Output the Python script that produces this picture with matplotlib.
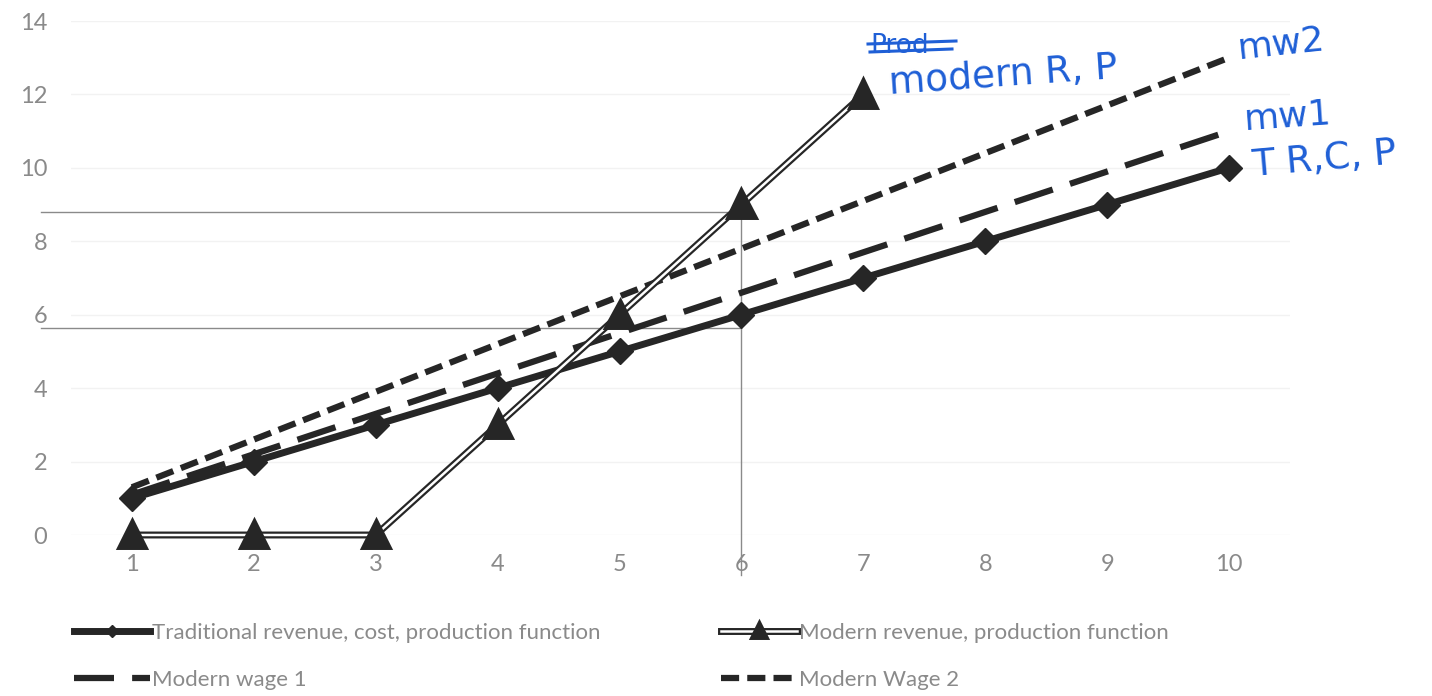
import matplotlib
matplotlib.use("Agg")
import matplotlib.pyplot as plt
import matplotlib.patheffects as pe

# Quantity of labour (category positions on the x axis)
labour = [1, 2, 3, 4, 5, 6, 7, 8, 9, 10]
traditional = [1, 2, 3, 4, 5, 6, 7, 8, 9, 10]
modern_labour = [1, 2, 3, 4, 5, 6, 7]
modern = [0, 0, 0, 3, 6, 9, 12]
modern_wage_1 = [1.1, 2.2, 3.3, 4.4, 5.5, 6.6, 7.7, 8.8, 9.9, 11.0]
modern_wage_2 = [1.3, 2.6, 3.9, 5.2, 6.5, 7.8, 9.1, 10.4, 11.7, 13.0]
y_ticks = [0, 2, 4, 6, 8, 10, 12, 14]

# Guide lines marking the modern sector at 6 workers
guide_x = 6
guide_levels = [8.8, 5.65]

labels = ["Traditional revenue, cost, production function",
          "Modern wage 1",
          "Modern revenue, production function",
          "Modern Wage 2"]

W, H = 1432, 696
fig = plt.figure(figsize=(W / 100, H / 100), dpi=100)
ax = fig.add_axes([71 / W, 1 - 535 / H, (1290 - 71) / W, (535 - 21) / H])

grey = "#8a8a8a"
ink = "#262626"
plt.rcParams["font.family"] = ["Lato", "DejaVu Sans"]

l_trad, = ax.plot(labour, traditional, color=ink, lw=5, marker="D",
                  ms=13, mfc=ink, mec=ink, clip_on=False, zorder=4)
l_mw1, = ax.plot(labour, modern_wage_1, color=ink, lw=4.5,
                 dashes=(6.4, 2.9), clip_on=False, zorder=3)
l_mw2, = ax.plot(labour, modern_wage_2, color=ink, lw=4.5,
                 dashes=(2.9, 1.3), clip_on=False, zorder=3)
l_mod, = ax.plot(modern_labour, modern, color="white", lw=1.8, marker="^",
                 ms=16, mfc=ink, mec=ink, clip_on=False, zorder=5,
                 path_effects=[pe.Stroke(linewidth=5, foreground=ink),
                               pe.Normal()])

# Hand-drawn style guide lines
for lvl in guide_levels:
    ax.plot([0.25, guide_x], [lvl, lvl], color="#8a8a8a", lw=1,
            clip_on=False, zorder=1)
ax.plot([guide_x, guide_x], [guide_levels[0], -1.1], color="#8a8a8a", lw=1,
        clip_on=False, zorder=1)

ax.set_xlim(0.5, 10.5)
ax.set_ylim(0, 14)
ax.set_xticks(labour)
ax.set_yticks(y_ticks)
ax.tick_params(axis="both", length=0, colors=grey, labelsize=17)
for lab in ax.get_xticklabels() + ax.get_yticklabels():
    lab.set_family(["Lato", "DejaVu Sans"])
ax.tick_params(axis="y", pad=17)
ax.tick_params(axis="x", pad=14)
for s in ax.spines.values():
    s.set_visible(False)
ax.grid(axis="y", color="#f2f2f2", lw=1)
ax.set_axisbelow(True)

leg = fig.legend([l_trad, l_mw1, l_mod, l_mw2], labels, ncol=2,
                 loc="upper left", bbox_to_anchor=(74 / W, 1 - 623 / H),
                 frameon=False, prop={"family": ["Lato", "DejaVu Sans"],
                                      "size": 16},
                 handlelength=3.4, handletextpad=0.1, columnspacing=5.45,
                 labelspacing=1.2, borderpad=0, borderaxespad=0,
                 markerscale=0.45)
for t in leg.get_texts():
    t.set_color(grey)

# Handwritten annotations
blue = "#1f5fd6"
hand = dict(color=blue, family="DejaVu Sans", va="center", ha="left")
fig.text(888 / W, 1 - 76 / H, "modern R, P", fontsize=27, rotation=4, **hand)
fig.text(1236 / W, 1 - 44 / H, "mw2", fontsize=26, rotation=6, **hand)
fig.text(1243 / W, 1 - 117 / H, "mw1", fontsize=26, rotation=4, **hand)
fig.text(1250 / W, 1 - 160 / H, "T R,C, P", fontsize=27, rotation=5, **hand)
fig.text(870 / W, 1 - 46 / H, "Prod", fontsize=19, **hand)
fig.add_artist(plt.Line2D([868 / W, 956 / W], [1 - 44 / H, 1 - 41 / H],
                          color=blue, lw=2.2))
fig.add_artist(plt.Line2D([870 / W, 952 / W], [1 - 52 / H, 1 - 49 / H],
                          color=blue, lw=2.2))

fig.savefig("out.png", dpi=100, facecolor="white")
